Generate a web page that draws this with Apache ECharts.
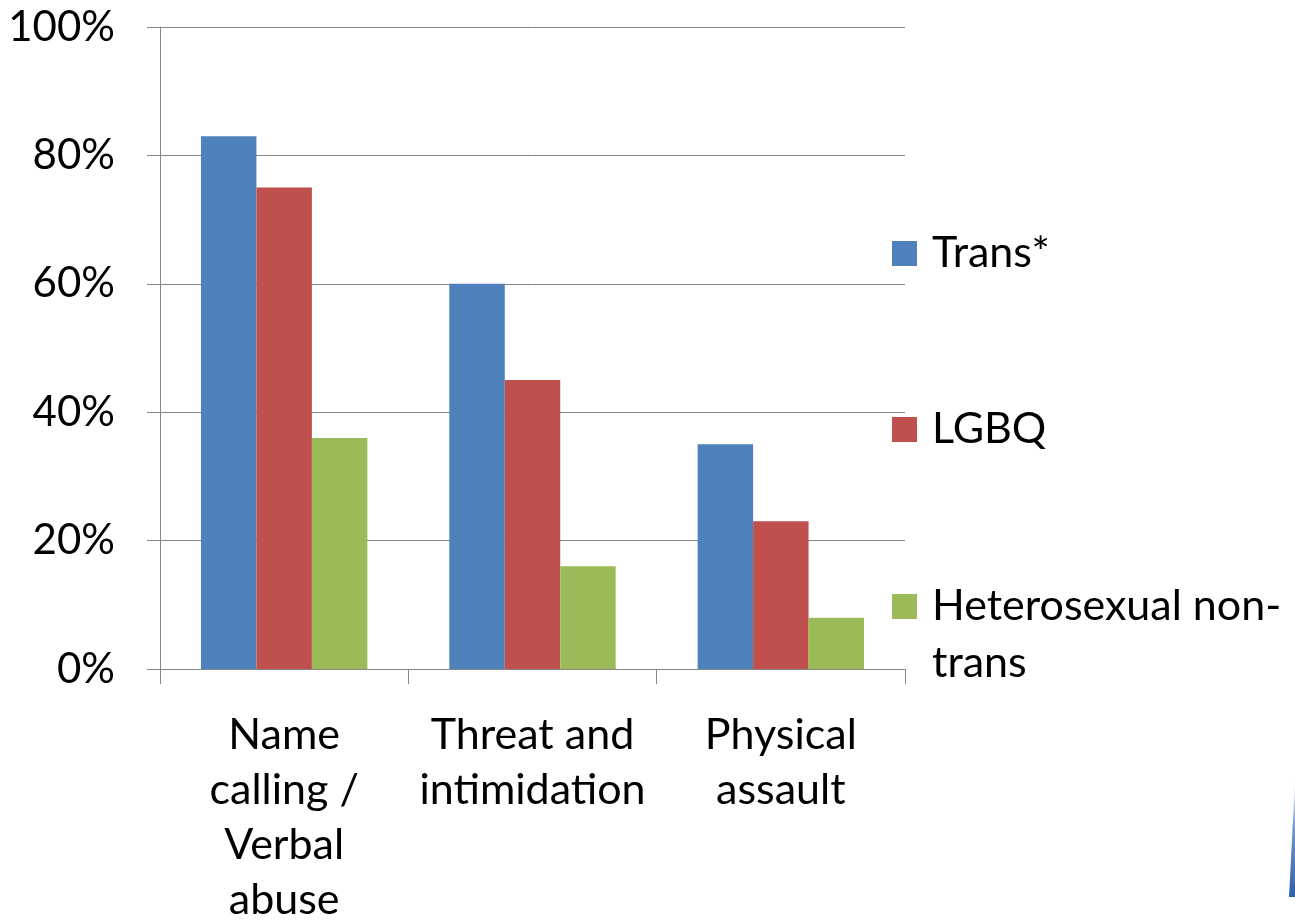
<!DOCTYPE html>
<html>
<head>
<meta charset="utf-8">
<script src="https://cdn.jsdelivr.net/npm/echarts@6/dist/echarts.min.js"></script>
<style>
  html, body { margin: 0; padding: 0; background: #fff; }
  #chart { width: 1295px; height: 924px; }
</style>
</head>
<body>
<div id="chart"></div>
<script>
// categories and values (percent)
var categories = ['Name\ncalling /\nVerbal\nabuse', 'Threat and\nintimidation', 'Physical\nassault'];
var transVals = [83, 60, 35];
var lgbqVals = [75, 45, 23];
var heteroVals = [36, 16, 8];
var seriesNames = ['Trans*', 'LGBQ', 'Heterosexual non-trans'];
var yTicks = [0, 20, 40, 60, 80, 100];

var colors = ['#4F81BD', '#C0504D', '#9BBB59'];
var fontFam = 'Lato, "Open Sans", sans-serif';

var chart = echarts.init(document.getElementById('chart'));

// one legend per item so each can sit at its own height
function oneLegend(name, top, fmt) {
    return {
        orient: 'vertical',
        left: 892,
        top: top,
        padding: 0,
        itemWidth: 25,
        itemHeight: 25,
        icon: 'rect',
        selectedMode: false,
        data: [name],
        formatter: fmt || '{a|{name}}',
        textStyle: {
            rich: {
                a: { fontFamily: fontFam, fontSize: 43, color: '#000', lineHeight: 57, padding: [0, 0, 0, 10] },
                s: { fontFamily: fontFam, fontSize: 43, lineHeight: 57 }
            }
        }
    };
}

var option = {
    animation: false,
    color: colors,
    grid: {
        left: 160,
        right: 390,
        top: 27,
        bottom: 255,
        outerBoundsMode: 'none'
    },
    legend: [
        oneLegend(seriesNames[0], 232),
        oneLegend(seriesNames[1], 408),
        // blank first line keeps the icon level with "Heterosexual non-"
        oneLegend(seriesNames[2], 528, '{s| }\n{a|Heterosexual non-}\n{a|trans}')
    ],
    xAxis: {
        type: 'category',
        data: categories,
        axisLine: { lineStyle: { color: '#868686', width: 1 } },
        axisTick: { show: true, length: 15, lineStyle: { color: '#868686' } },
        axisLabel: {
            interval: 0,
            margin: 39,
            fontFamily: fontFam,
            fontSize: 43,
            lineHeight: 55,
            color: '#000'
        }
    },
    yAxis: {
        type: 'value',
        min: yTicks[0],
        max: yTicks[yTicks.length - 1],
        interval: 20,
        axisLine: { show: true, lineStyle: { color: '#868686', width: 1 } },
        axisTick: { show: true, length: 13, lineStyle: { color: '#868686' } },
        splitLine: { lineStyle: { color: '#868686', width: 1 } },
        axisLabel: {
            formatter: '{value}%',
            margin: 45,
            fontFamily: fontFam,
            fontSize: 42,
            color: '#000'
        }
    },
    series: [
        { name: seriesNames[0], type: 'bar', data: transVals, barGap: 0, barCategoryGap: '33%' },
        { name: seriesNames[1], type: 'bar', data: lgbqVals, barGap: 0, barCategoryGap: '33%' },
        { name: seriesNames[2], type: 'bar', data: heteroVals, barGap: 0, barCategoryGap: '33%' }
    ],
    graphic: [
        {
            // sliver of slide decoration at the bottom-right edge
            type: 'polygon',
            shape: { points: [[1295, 780], [1295, 897], [1289, 897]] },
            style: {
                fill: new echarts.graphic.LinearGradient(0, 0, 0, 1, [
                    { offset: 0, color: 'rgba(60,110,180,0)' },
                    { offset: 0.4, color: 'rgba(60,110,180,0.7)' },
                    { offset: 1, color: '#2E5FA8' }
                ])
            }
        }
    ]
};

chart.setOption(option);
</script>
</body>
</html>
